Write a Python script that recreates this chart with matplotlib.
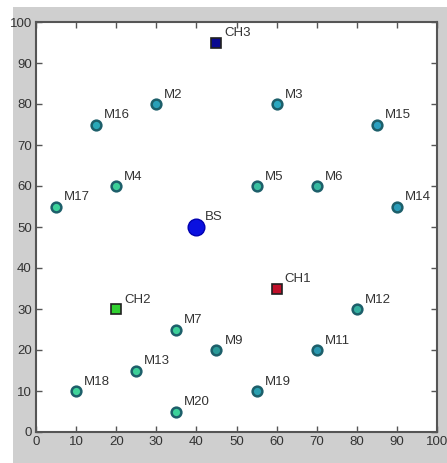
import matplotlib
matplotlib.use("Agg")
import matplotlib.pyplot as plt
from matplotlib.patches import Rectangle

plt.rcParams['font.family'] = ['Liberation Sans Narrow', 'Liberation Sans', 'DejaVu Sans']

# Member nodes
m_names = ['M2', 'M3', 'M4', 'M5', 'M6', 'M7', 'M9', 'M11', 'M12', 'M13',
           'M14', 'M15', 'M16', 'M17', 'M18', 'M19', 'M20']
m_x = [30, 60, 20, 55, 70, 35, 45, 70, 80, 25, 90, 85, 15, 5, 10, 55, 35]
m_y = [80, 80, 60, 60, 60, 25, 20, 20, 30, 15, 55, 75, 75, 55, 10, 10, 5]
m_fill = ['#2aa0b8', '#2aa8c0', '#3ccf98', '#38c0a0', '#36b8a0', '#3ccf98', '#2a9a98',
          '#2a98b0', '#34b0a0', '#3ccf98', '#2a9cb8', '#2aa0c0', '#2aa8b8', '#3cd29a',
          '#40d49a', '#2aa0b0', '#3cd29a']

# Cluster heads
ch_names = ['CH1', 'CH2', 'CH3']
ch_x = [60, 20, 45]
ch_y = [35, 30, 95]
ch_fill = ['#c0102a', '#30d030', '#0a0a90']

# Base station
bs_name = 'BS'
bs_x = [40]
bs_y = [50]

fig = plt.figure(figsize=(4.47, 4.63), dpi=100)
fig.patch.set_facecolor('white')
fig.patches.append(Rectangle((13/447, 0), 1 - 13/447, 1 - 7/463, transform=fig.transFigure,
                             facecolor='#cfcfcf', edgecolor='none', zorder=-10))
ax = fig.add_axes([36/447, 31/463, 401/447, 410/463])
ax.set_facecolor('white')

for x, y, c, n in zip(m_x, m_y, m_fill, m_names):
    ax.plot(x, y, 'o', ms=7, mfc=c, mec='#1d5f6a', mew=1.8)
    ax.text(x + 2, y + 0.8, n, fontsize=9.5, color='#333333', va='bottom', ha='left')

for x, y, c, n in zip(ch_x, ch_y, ch_fill, ch_names):
    ax.plot(x, y, 's', ms=7.5, mfc=c, mec='#202020', mew=1.2)
    ax.text(x + 2, y + 0.8, n, fontsize=9.5, color='#333333', va='bottom', ha='left')

ax.plot(bs_x, bs_y, 'o', ms=12, mfc='#0a10e0', mec='#0000b0', mew=1)
ax.text(bs_x[0] + 2, bs_y[0] + 1, bs_name, fontsize=9.5, color='#333333', va='bottom', ha='left')

ax.set_xlim(0, 100)
ax.set_ylim(0, 100)
ax.set_xticks(range(0, 101, 10))
ax.set_yticks(range(0, 101, 10))
ax.tick_params(direction='in', top=True, right=True, length=4, width=1, color='#555555',
               labelsize=9.5, labelcolor='#333333', pad=3)
for s in ax.spines.values():
    s.set_color('#555555')
    s.set_linewidth(1.5)

fig.savefig('out.png', dpi=100)
